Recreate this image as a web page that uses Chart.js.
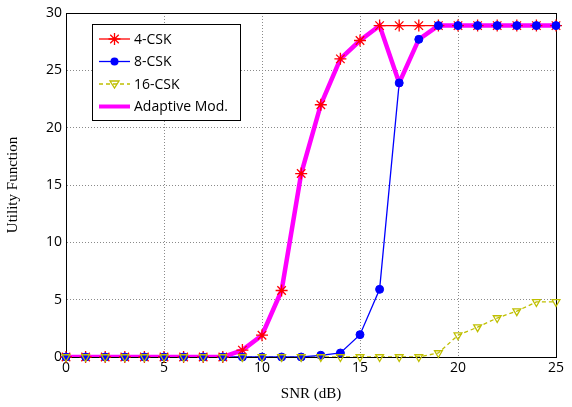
<!DOCTYPE html>
<html>
<head>
<meta charset="utf-8">
<script src="https://cdn.jsdelivr.net/npm/chart.js@4"></script>
<style>
  html, body { margin: 0; padding: 0; background: #fff; }
  #wrap { width: 572px; height: 407px; }
</style>
</head>
<body>
<div id="wrap"><canvas id="utilChart"></canvas></div>
<script>
'use strict';

// ---- data ----
const snr = [0, 1, 2, 3, 4, 5, 6, 7, 8, 9, 10, 11, 12, 13, 14, 15, 16, 17, 18, 19, 20, 21, 22, 23, 24, 25];
const csk4 = [0, 0, 0, 0, 0, 0, 0, 0, 0, 0.6, 1.9, 5.8, 16, 22, 26, 27.6, 28.9, 28.9, 28.9, 28.9, 28.9, 28.9, 28.9, 28.9, 28.9, 28.9];
const csk8 = [0, 0, 0, 0, 0, 0, 0, 0, 0, 0, 0, 0, 0, 0.15, 0.35, 1.95, 5.9, 23.9, 27.7, 28.9, 28.9, 28.9, 28.9, 28.9, 28.9, 28.9];
const csk16 = [0, 0, 0, 0, 0, 0, 0, 0, 0, 0, 0, 0, 0, 0, 0, 0, 0, 0, 0, 0.35, 1.9, 2.6, 3.4, 4.0, 4.8, 4.8];
const adaptive = [0, 0, 0, 0, 0, 0, 0, 0, 0, 0.6, 1.9, 5.8, 16, 22, 26, 27.6, 28.9, 23.9, 27.7, 28.9, 28.9, 28.9, 28.9, 28.9, 28.9, 28.9];
const xStep = 5;
const yStep = 5;

const RED = '#ff0000', BLUE = '#0000ff', OLIVE = '#bfbf00', MAGENTA = '#ff00ff';
const tickFont = { family: 'Open Sans', size: 14 };
const titleFont = { family: 'Liberation Serif', size: 15 };

const pts = arr => arr.map((v, i) => ({ x: snr[i], y: v }));

// lines go under the magenta curve, markers go on top of it
function lineOnly(arr, color, dash, order) {
  return { data: pts(arr), borderColor: color, borderWidth: 1.3, borderDash: dash, pointRadius: 0, tension: 0, order };
}
function markersOnly(arr, color, style, opts, order) {
  return Object.assign({
    data: pts(arr), showLine: false, pointStyle: style, borderColor: color, clip: false, order,
  }, opts);
}

const legendItems = [
  { label: '4-CSK', color: RED, width: 1.3, dash: [], marker: 'star' },
  { label: '8-CSK', color: BLUE, width: 1.3, dash: [], marker: 'circle' },
  { label: '16-CSK', color: OLIVE, width: 1.3, dash: [4, 3], marker: 'tri' },
  { label: 'Adaptive Mod.', color: MAGENTA, width: 4, dash: [], marker: null },
];

// ---- black box round the plot area ----
const frame = {
  id: 'frame',
  beforeDatasetsDraw(chart) {
    const a = chart.chartArea, c = chart.ctx;
    c.save();
    c.strokeStyle = '#000';
    c.lineWidth = 1;
    c.strokeRect(Math.round(a.left) + 0.5, Math.round(a.top) + 0.5,
      Math.round(a.right - a.left), Math.round(a.bottom - a.top));
    c.restore();
  },
};

// ---- legend box inside the plot (top-left) ----
const insideLegend = {
  id: 'insideLegend',
  afterDraw(chart) {
    const c = chart.ctx;
    const x0 = 92, y0 = 24, w = 148, h = 96;
    c.save();
    c.fillStyle = '#fff';
    c.fillRect(x0, y0, w, h);
    c.strokeStyle = '#000';
    c.lineWidth = 1;
    c.strokeRect(x0 + 0.5, y0 + 0.5, w, h);
    legendItems.forEach((it, i) => {
      const y = y0 + 15 + i * 22.5;
      c.strokeStyle = it.color;
      c.lineWidth = it.width;
      c.setLineDash(it.dash);
      c.beginPath();
      c.moveTo(x0 + 7, y);
      c.lineTo(x0 + 38, y);
      c.stroke();
      c.setLineDash([]);
      const mx = x0 + 22.5;
      if (it.marker === 'star') {
        c.lineWidth = 1.3;
        Chart.helpers.drawPoint(c, { pointStyle: 'star', radius: 6, rotation: 0, borderWidth: 1.3 }, mx, y);
      } else if (it.marker === 'circle') {
        c.fillStyle = it.color;
        c.beginPath();
        c.arc(mx, y, 4, 0, Math.PI * 2);
        c.fill();
      } else if (it.marker === 'tri') {
        c.lineWidth = 1.3;
        c.beginPath();
        c.moveTo(mx - 4.5, y - 3);
        c.lineTo(mx + 4.5, y - 3);
        c.lineTo(mx, y + 4);
        c.closePath();
        c.stroke();
      }
      c.fillStyle = '#000';
      c.font = '14px "Open Sans"';
      c.textBaseline = 'middle';
      c.textAlign = 'left';
      c.fillText(it.label, x0 + 42, y + 1);
    });
    c.restore();
  },
};

new Chart(document.getElementById('utilChart'), {
  type: 'line',
  data: {
    datasets: [
      lineOnly(csk16, OLIVE, [4, 3], 7),
      lineOnly(csk8, BLUE, [], 6),
      lineOnly(csk4, RED, [], 5),
      { data: pts(adaptive), borderColor: MAGENTA, borderWidth: 4.5, pointRadius: 0, tension: 0, order: 4 },
      markersOnly(csk4, RED, 'star', { pointRadius: 6, borderWidth: 1.3 }, 3),
      markersOnly(csk8, BLUE, 'circle', { pointRadius: 4, backgroundColor: BLUE, borderWidth: 1 }, 2),
      markersOnly(csk16, OLIVE, 'triangle', { pointRadius: 4.5, rotation: 180, backgroundColor: 'rgba(0,0,0,0)', borderWidth: 1.3 }, 1),
    ],
  },
  plugins: [frame, insideLegend],
  options: {
    responsive: true,
    maintainAspectRatio: false,
    animation: false,
    layout: { padding: { top: 13, right: 16, left: 0, bottom: 0 } },
    plugins: { legend: { display: false }, tooltip: { enabled: false } },
    scales: {
      x: {
        type: 'linear',
        min: 0, max: 25,
        afterFit: s => { s.height = 50; },
        grid: { color: '#8a8a8a', lineWidth: 1, drawTicks: false },
        border: { display: true, color: '#000', width: 1, dash: [1, 2] },
        ticks: { stepSize: xStep, font: tickFont, color: '#000', padding: 3, maxRotation: 0 },
        title: { display: true, text: 'SNR (dB)', font: titleFont, color: '#000', padding: { top: 2 } },
      },
      y: {
        type: 'linear',
        min: 0, max: 30,
        afterFit: s => { s.width = 66; },
        grid: { color: '#8a8a8a', lineWidth: 1, drawTicks: false },
        border: { display: true, color: '#000', width: 1, dash: [1, 2] },
        ticks: { stepSize: yStep, font: tickFont, color: '#000', padding: 4 },
        title: { display: true, text: 'Utility Function', font: titleFont, color: '#000', padding: { bottom: 6 } },
      },
    },
  },
});
</script>
</body>
</html>
